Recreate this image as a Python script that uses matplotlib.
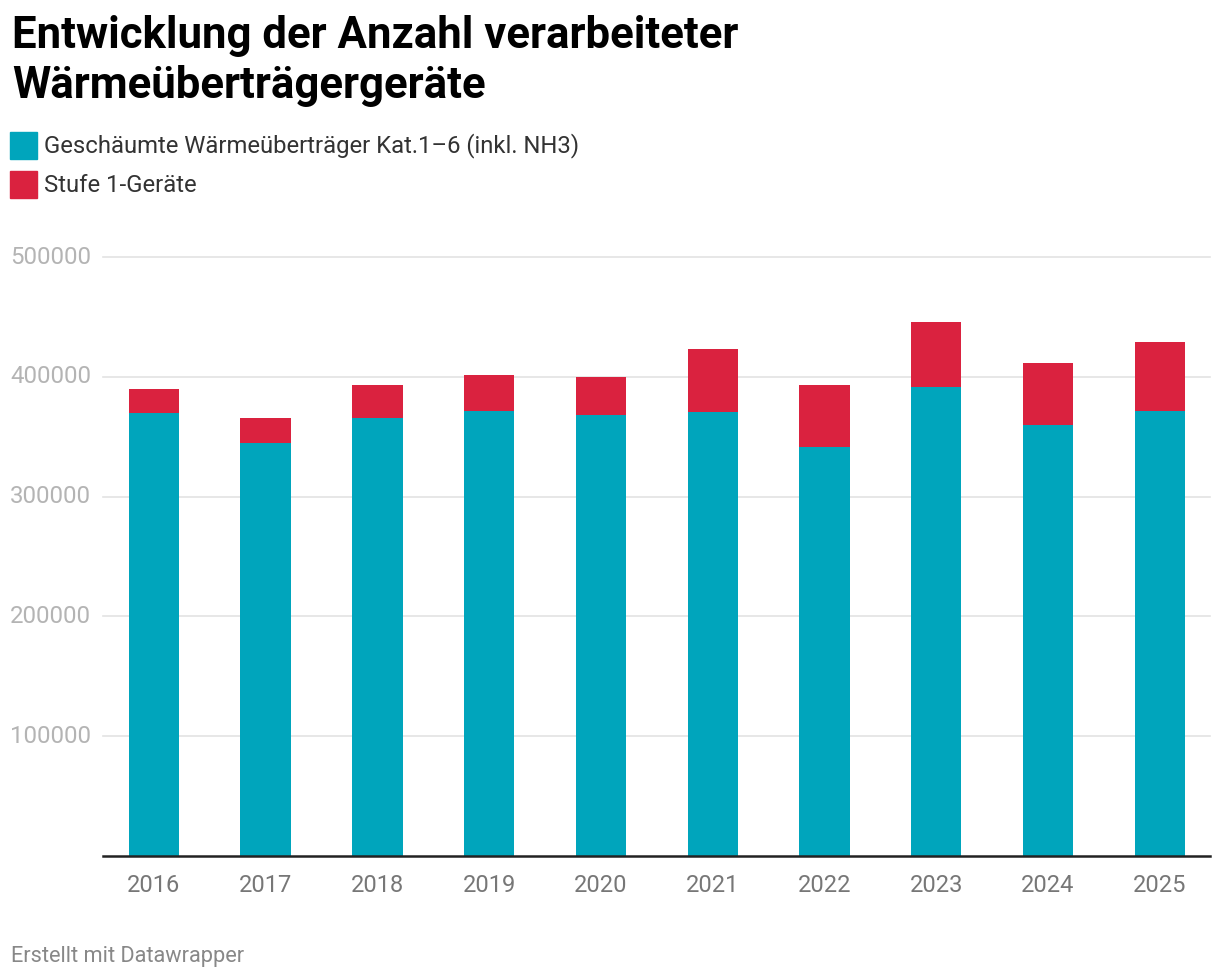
import matplotlib
matplotlib.use("Agg")
import matplotlib.pyplot as plt
from matplotlib.patches import Rectangle

years = ["2016", "2017", "2018", "2019", "2020", "2021", "2022", "2023", "2024", "2025"]
geschaeumte = [370000, 345000, 366000, 371600, 368300, 371000, 341000, 391100, 360000, 371600]
stufe1 = [20000, 20800, 27300, 30100, 31700, 52400, 52300, 54800, 51700, 57600]
yticks = [100000, 200000, 300000, 400000, 500000]

series_names = ["Geschäumte Wärmeüberträger Kat.1–6 (inkl. NH3)", "Stufe 1-Geräte"]
c_teal = "#00a5bc"
c_red = "#da223f"

plt.rcParams['font.family'] = ['Roboto', 'DejaVu Sans']

W, H = 1220, 980
fig = plt.figure(figsize=(W / 100, H / 100), dpi=100)
fig.patch.set_facecolor("white")

def fx(px):
    return px / W

def fy(py):
    return 1 - py / H

ax = fig.add_axes([fx(103), fy(856), fx(1210) - fx(103), fy(257) - fy(856)])
x = list(range(len(years)))
ax.bar(x, geschaeumte, width=0.45, color=c_teal, zorder=3)
ax.bar(x, stufe1, bottom=geschaeumte, width=0.45, color=c_red, zorder=3)
ax.set_xlim(-0.455, 9.45)
ax.set_ylim(0, 500000)
for s in ax.spines.values():
    s.set_visible(False)
ax.axhline(0, color="#222222", lw=1.8, zorder=4, clip_on=False)
for t in yticks:
    ax.axhline(t, color="#e3e3e3", lw=1.2, zorder=1, clip_on=False)
ax.set_yticks([])
ax.set_xticks(x)
ax.set_xticklabels(years, fontsize=17, color="#777777")
ax.tick_params(axis="x", length=0, pad=13)
for t in yticks:
    ax.text(-0.455 - 0.83, t, str(t), ha="left", va="center", fontsize=17.3, color="#b4b4b4")

fig.text(fx(12), fy(36), "Entwicklung der Anzahl verarbeiteter", fontsize=31.5,
         fontweight="bold", ha="left", va="center", color="#000000")
fig.text(fx(12), fy(86), "Wärmeüberträgergeräte", fontsize=31.5,
         fontweight="bold", ha="left", va="center", color="#000000")

for i, (name, col) in enumerate(zip(series_names, [c_teal, c_red])):
    yc = 146 + i * 39
    fig.patches.append(Rectangle((fx(10), fy(yc + 13)), fx(27), fy(yc - 14) - fy(yc + 13),
                                 transform=fig.transFigure, color=col))
    fig.text(fx(44), fy(yc), name, fontsize=17.2, ha="left", va="center", color="#333333")

fig.text(fx(11), fy(956), "Erstellt mit Datawrapper", fontsize=15.7, ha="left", va="center",
         color="#888888")

fig.savefig("out.png", dpi=100, facecolor="white")
